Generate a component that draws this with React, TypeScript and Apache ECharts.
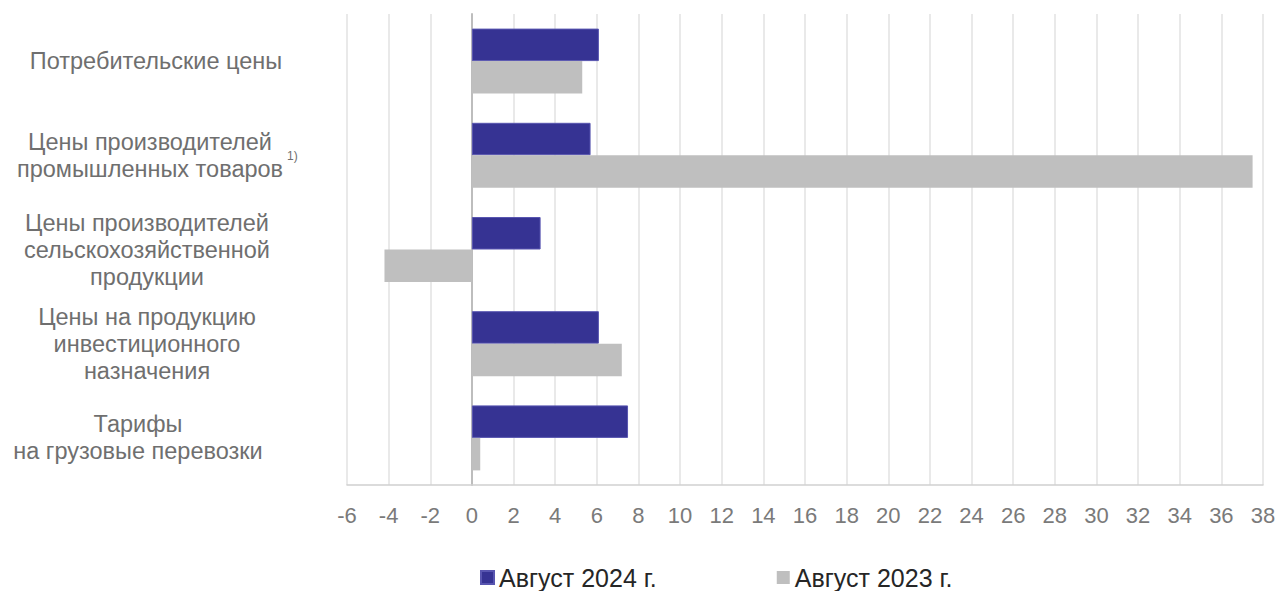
import React, { useEffect, useRef } from "react";
import * as echarts from "echarts";

const categories = [
  "Потребительские цены",
  "Цены производителей\nпромышленных товаров",
  "Цены производителей\nсельскохозяйственной\nпродукции",
  "Цены на продукцию\nинвестиционного\nназначения",
  "Тарифы\nна грузовые перевозки",
];
const aug2024 = [6.1, 5.7, 3.3, 6.1, 7.5];
const aug2023 = [5.3, 37.5, -4.2, 7.2, 0.4];
const seriesNames = ["Август 2024 г.", "Август 2023 г."];
const footnote = "1)";

const FONT = "'Liberation Sans', Arial, sans-serif";
const labelPads: number[][] = [
  [0, 0, 0, 18],
  [0, 0, 0, 6],
  [0, 0, 0, 0],
  [0, 0, 0, 0],
  [0, 18, 0, 0],
];

export default function App() {
  const ref = useRef<HTMLDivElement>(null);
  useEffect(() => {
    if (!ref.current) return;
    const chart = echarts.init(ref.current, null, { renderer: "svg" });
    const rich: Record<string, any> = {};
    labelPads.forEach((p, i) => {
      rich["c" + i] = {
        fontFamily: FONT,
        fontSize: 23.5,
        color: "#6f6f6f",
        lineHeight: 27,
        padding: p,
      };
    });
    chart.setOption({
      animation: false,
      backgroundColor: "#ffffff",
      grid: {
        left: 347,
        right: 17,
        top: 14,
        bottom: 106,
        containLabel: false,
        outerBoundsMode: "none",
      },
      legend: {
        left: 480,
        top: 565,
        padding: 0,
        itemWidth: 13,
        itemHeight: 13,
        itemGap: 120,
        icon: "rect",
        textStyle: { fontFamily: FONT, fontSize: 25, color: "#262626" },
        data: seriesNames,
      },
      xAxis: {
        type: "value",
        min: -6,
        max: 38,
        interval: 2,
        axisLine: { show: true, onZero: false, lineStyle: { color: "#d0d0d0", width: 1.5 } },
        axisTick: { show: false },
        splitLine: { show: true, lineStyle: { color: "#e2e2e2", width: 1.5 } },
        axisLabel: { fontFamily: FONT, fontSize: 22, color: "#7a7a7a", margin: 19 },
      },
      yAxis: {
        type: "category",
        inverse: true,
        data: categories,
        axisLine: { show: true, onZero: true, lineStyle: { color: "#bdbdbd", width: 2 } },
        axisTick: { show: false },
        splitLine: { show: false },
        axisLabel: {
          align: "center",
          margin: 200,
          interval: 0,
          formatter: (v: string, i: number) =>
            v
              .split("\n")
              .map((l) => `{c${i}|${l}}`)
              .join("\n"),
          rich,
        },
      },
      series: [
        {
          name: seriesNames[0],
          type: "bar",
          data: aug2024,
          barGap: "0%",
          barCategoryGap: "31%",
          itemStyle: { color: "#363393", borderColor: "#5855b0", borderWidth: 1 },
        },
        {
          name: seriesNames[1],
          type: "bar",
          data: aug2023,
          barGap: "0%",
          barCategoryGap: "31%",
          itemStyle: { color: "#bfbfbf" },
        },
      ],
      graphic: [
        {
          type: "text",
          left: 287,
          top: 150,
          style: { text: footnote, fontFamily: FONT, fontSize: 12, fill: "#6f6f6f" },
        },
      ],
    });
    return () => chart.dispose();
  }, []);
  return (
    <div
      ref={ref}
      style={{ position: "absolute", left: 0, top: 0, width: 1280, height: 591 }}
    />
  );
}
